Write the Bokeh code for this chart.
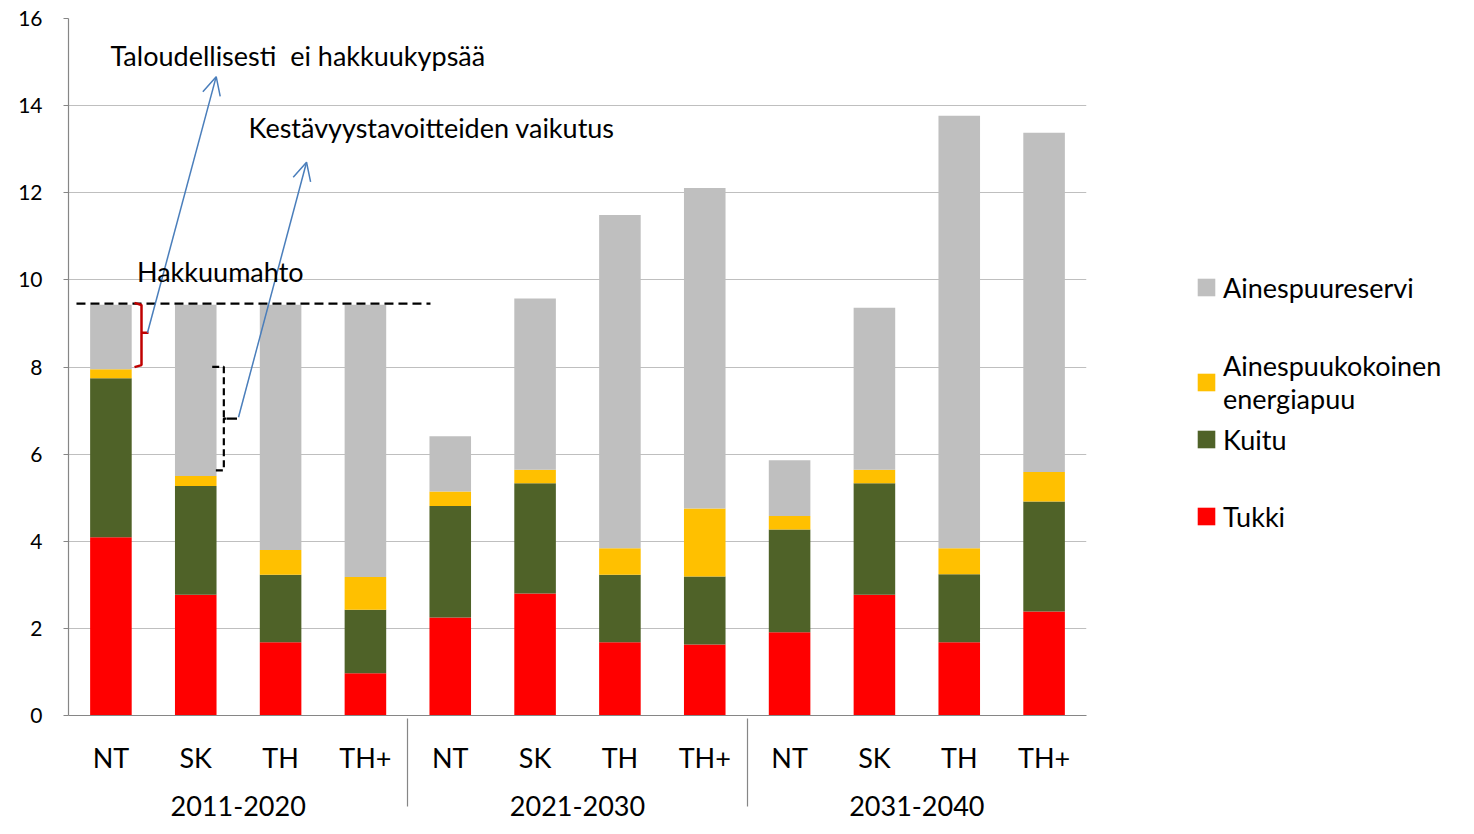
from bokeh.plotting import figure
from bokeh.layouts import row
from bokeh.models import (FactorRange, Range1d, ColumnDataSource, Legend, LegendItem,
                          Arrow, OpenHead, Label, FixedTicker)
from bokeh.embed import file_html
from bokeh.resources import INLINE

periods = ["2011-2020", "2021-2030", "2031-2040"]
scenarios = ["NT", "SK", "TH", "TH+"]

tukki = [4.09, 2.77, 1.68, 0.97, 2.25, 2.80, 1.68, 1.63, 1.91, 2.77, 1.68, 2.39]
kuitu = [3.65, 2.50, 1.55, 1.46, 2.56, 2.53, 1.55, 1.56, 2.36, 2.56, 1.56, 2.52]
energiapuu = [0.21, 0.23, 0.57, 0.75, 0.33, 0.31, 0.61, 1.56, 0.31, 0.31, 0.60, 0.68]
reservi = [1.48, 3.93, 5.63, 6.25, 1.27, 3.93, 7.65, 7.36, 1.28, 3.72, 9.93, 7.79]

series = ["tukki", "kuitu", "energiapuu", "reservi"]
series_labels = ["Tukki", "Kuitu", "Ainespuukokoinen\nenergiapuu", "Ainespuureservi"]
colors = ["#FF0000", "#4F6228", "#FFC000", "#BFBFBF"]

hakkuumahto = 9.455
y_ticks = [0, 2, 4, 6, 8, 10, 12, 14, 16]

FONT = "Lato"

factors = [(pr, sc) for pr in periods for sc in scenarios]
src = ColumnDataSource(dict(x=factors, tukki=tukki, kuitu=kuitu,
                            energiapuu=energiapuu, reservi=reservi))

H = 830
W1 = 1120
W2 = 350
FRAME_BOTTOM = 715
xr = FactorRange(*factors, factor_padding=0, group_padding=0,
                 subgroup_padding=0, range_padding=0)
p = figure(x_range=xr, y_range=Range1d(0, 16),
           width=W1, height=H, output_backend="svg", toolbar_location=None,
           min_border_left=68, min_border_top=18, min_border_right=W1 - 1086,
           min_border_bottom=H - FRAME_BOTTOM)
p.outline_line_color = None
p.background_fill_color = "white"
p.border_fill_color = "white"

rs = p.vbar_stack(series, x="x", width=0.49, color=colors, source=src,
                  line_color=None)

# axes
p.xgrid.grid_line_color = None
p.ygrid.grid_line_color = "#BFBFBF"
p.ygrid.grid_line_width = 1.2
p.yaxis.ticker = FixedTicker(ticks=y_ticks)
p.yaxis.axis_line_color = "#868686"
p.yaxis.axis_line_width = 1.2
p.yaxis.major_tick_line_color = "#868686"
p.yaxis.major_tick_out = 5
p.yaxis.major_tick_in = 0
p.yaxis.minor_tick_line_color = None
p.yaxis.major_label_text_font = FONT
p.yaxis.major_label_text_font_size = "21px"
p.yaxis.major_label_text_color = "black"
p.yaxis.major_label_standoff = 21

p.xaxis.axis_line_color = "#868686"
p.xaxis.axis_line_width = 1.2
p.xaxis.major_tick_line_color = None
p.xaxis.minor_tick_line_color = None
p.xaxis.major_label_text_font = FONT
p.xaxis.major_label_text_font_size = "27px"
p.xaxis.major_label_text_color = "black"
p.xaxis.group_text_font = FONT
p.xaxis.group_text_font_size = "27px"
p.xaxis.group_text_color = "black"
p.xaxis.group_text_font_style = "normal"
p.xaxis.separator_line_color = "#868686"
p.xaxis.separator_line_width = 1.2
p.xaxis.major_label_standoff = 19

# annotations
p.line(x=[0.094, 4.267], y=[hakkuumahto, hakkuumahto], line_color="black",
       line_width=2.2, line_dash="9 5")
p.line(x=[0.778, 0.8605, 0.8605, 0.943, 0.8605, 0.8605, 0.778],
       y=[9.471, 9.425, 8.787, 8.787, 8.787, 8.044, 7.998],
       line_color="#C00000", line_width=2.5)
p.line(x=[1.694, 1.831, 1.831, 1.989, 1.831, 1.831, 1.694],
       y=[8.005, 8.005, 6.817, 6.817, 6.817, 5.627, 5.627],
       line_color="black", line_width=2.2, line_dash="7 4")

blue = "#4A7EBB"
p.add_layout(Arrow(end=OpenHead(size=18, line_color=blue, line_width=1.5),
                   x_start=0.931, y_start=8.787, x_end=1.741, y_end=14.665,
                   line_color=blue, line_width=1.5))
p.add_layout(Arrow(end=OpenHead(size=18, line_color=blue, line_width=1.5),
                   x_start=2.004, y_start=6.847, x_end=2.806, y_end=12.700,
                   line_color=blue, line_width=1.5))

for txt, x, y in [("Taloudellisesti\u00a0 ei hakkuukypsää", 0.495, 15.16),
                  ("Kestävyystavoitteiden vaikutus", 2.122, 13.50),
                  ("Hakkuumahto", 0.807, 10.20)]:
    p.add_layout(Label(x=x, y=y, text=txt, text_font=FONT, text_font_size="27px",
                       text_color="black", text_baseline="alphabetic",
                       text_align="left"))

# legend panel: a second figure to the right sharing the same x range; its
# stacked bars are hidden and serve only as legend sources
lp = figure(width=W2, height=H, x_range=xr, y_range=Range1d(0, 16),
            output_backend="svg", toolbar_location=None,
            x_axis_location=None, y_axis_location=None, min_border=0)
lp.outline_line_color = None
lp.xgrid.visible = False
lp.ygrid.visible = False
lp.background_fill_color = "white"
proxies = lp.vbar_stack(series, x="x", width=0.49, color=colors, source=src,
                        line_color=None)
for r in proxies:
    r.visible = False

# row aligns the frames, so legend positions are measured from y = FRAME_BOTTOM
centers = {3: 287, 2: 382, 1: 439, 0: 516}
heights = {3: 40, 2: 70, 1: 40, 0: 40}
for i in [3, 2, 1, 0]:
    lh = heights[i]
    ly = FRAME_BOTTOM - centers[i] - lh / 2
    lg = Legend(items=[LegendItem(label=series_labels[i], renderers=[proxies[i]])],
                location=(75, ly), orientation="vertical",
                label_text_font=FONT, label_text_font_size="27px",
                label_text_color="black",
                label_height=lh, glyph_width=22, glyph_height=22, label_standoff=6,
                spacing=0, padding=0, margin=0, border_line_color=None,
                background_fill_alpha=0, inactive_fill_alpha=0)
    lp.add_layout(lg, "center")

layout = row(p, lp)
open("out.html", "w").write(file_html(layout, INLINE))
